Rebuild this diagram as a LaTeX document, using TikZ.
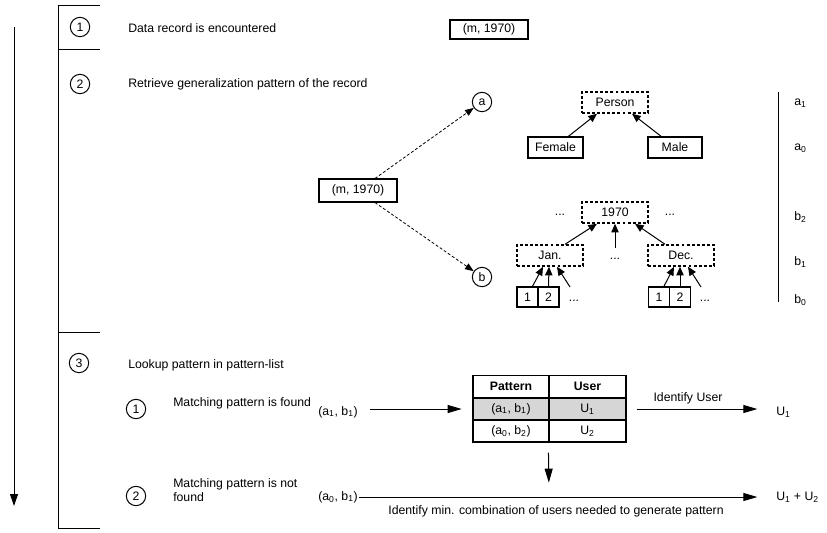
\documentclass[tikz,border=0pt]{standalone}
\usepackage{fontspec}
\setmainfont{Liberation Sans}
\usetikzlibrary{arrows.meta,calc}
\tikzset{
  txt/.style={inner sep=0pt, anchor=west},
  circ/.style={circle, draw, line width=0.75pt, minimum size=14.5pt, inner sep=0pt},
  sbox/.style={draw, line width=1.1pt, inner sep=0pt, minimum width=#1, minimum height=15.75pt},
  dbox/.style={draw, line width=1.1pt, dash pattern=on 2.2pt off 1.6pt, inner sep=0pt, minimum width=49.5pt, minimum height=15.75pt},
  numbox/.style={draw, line width=1.1pt, inner sep=0pt, minimum width=15.75pt, minimum height=15pt},
  cell/.style={draw, line width=1pt, inner sep=0pt, minimum width=#1, minimum height=16.5pt},
  tarr/.style={-{Triangle[length=6.5pt,width=5.5pt]}, line width=0.75pt},
  darr/.style={-{Triangle[length=6.5pt,width=5pt]}, line width=0.6pt, dash pattern=on 2.2pt off 1.5pt},
  barr/.style={-{Triangle[length=10.5pt,width=6pt]}, line width=0.75pt},
  frame/.style={line width=0.75pt},
}
\begin{document}
\begin{tikzpicture}[x=0.75pt,y=-0.75pt, font=\fontsize{9.2}{11}\selectfont]
\useasboundingbox (0,0) rectangle (827,532);

% timeline arrow
\coordinate (tl0) at (14,27);
\coordinate (tl1) at (14,506);
\draw[-{Triangle[length=9pt,width=6pt]}, line width=0.75pt] (tl0) -- (tl1);

% bracket frame
\coordinate (f0) at (58,5);
\coordinate (f1) at (58,528);
\draw[frame] (f0) -- (f1);
\foreach \yy in {5,49,332,528} {\draw[frame] (58,\yy) -- (100,\yy);}

% step 1
\node[circ] (c1) at (80,27) {1};
\node[txt] (t1) at (128,28) {Data record is encountered};
\node[sbox=58.5pt, minimum height=14.5pt] (rec1) at (489,29.5) {(m, 1970)};

% step 2
\node[circ] (c2) at (80,84) {2};
\node[txt] (t2) at (128,84) {Retrieve generalization pattern of the record};
\node[sbox=58.5pt, minimum height=17pt] (rec2) at (358,190.5) {(m, 1970)};
\node[circ] (a) at (482,102) {a};
\node[circ] (b) at (482,277) {b};
\draw[darr] ($(rec2.north)+(17,0)$) -- (a);
\draw[darr] ($(rec2.south)+(17,0)$) -- (b);

% hierarchy a
\node[dbox] (person) at (615,102.5) {Person};
\node[sbox=41.25pt] (female) at (555.5,147.5) {Female};
\node[sbox=40.5pt] (male) at (675,147.5) {Male};
\draw[tarr] ($(female.north)+(13,0)$) -- ($(person.south)+(-18,0)$);
\draw[tarr] ($(male.north)+(-14,0)$) -- ($(person.south)+(17,0)$);

% hierarchy b
\node[dbox] (y1970) at (615,212.5) {1970};
\node[dbox] (jan) at (550,255.5) {Jan.};
\node[dbox] (dec) at (681,255.5) {Dec.};
\node[inner sep=0pt] (dl) at (560,215) {...};
\node[inner sep=0pt] (dr) at (670,215) {...};
\node[inner sep=0pt] (dm) at (615,259) {...};
\coordinate (dmtop) at (615,248);
\draw[tarr] ($(jan.north)+(15,0)$) -- ($(y1970.south)+(-18,0)$);
\draw[tarr] (dmtop) -- (y1970.south);
\draw[tarr] ($(dec.north)+(-16,0)$) -- ($(y1970.south)+(20,0)$);

\node[numbox] (j1) at (527.5,297) {1};
\node[numbox] (j2) at (548.5,297) {2};
\node[inner sep=0pt] (jd) at (574,301) {...};
\coordinate (jdtop) at (570,287);
\node[numbox] (d1) at (659,297) {1};
\node[numbox] (d2) at (680,297) {2};
\node[inner sep=0pt] (dd) at (705,301) {...};
\coordinate (ddtop) at (701,287);
\draw[tarr] ($(j1.north)+(5,0)$) -- ($(jan.south)+(-7,0)$);
\draw[tarr] ($(j2.north)+(0,0)$) -- ($(jan.south)+(-1,0)$);
\draw[tarr] (jdtop) -- ($(jan.south)+(7,0)$);
\draw[tarr] ($(d1.north)+(5,0)$) -- ($(dec.south)+(-7,0)$);
\draw[tarr] ($(d2.north)+(0,0)$) -- ($(dec.south)+(-1,0)$);
\draw[tarr] (ddtop) -- ($(dec.south)+(7,0)$);

% level scale
\coordinate (s0) at (778,92);
\coordinate (s1) at (778,302);
\draw[line width=0.75pt] (s0) -- (s1);
\node[txt] (la1) at (794,103) {a\textsubscript{1}};
\node[txt] (la0) at (794,148) {a\textsubscript{0}};
\node[txt] (lb2) at (794,217) {b\textsubscript{2}};
\node[txt] (lb1) at (794,262) {b\textsubscript{1}};
\node[txt] (lb0) at (794,300) {b\textsubscript{0}};

% step 3
\node[circ] (c3) at (79,363) {3};
\node[txt] (t3) at (128,365) {Lookup pattern in pattern-list};

\node[circ] (s31) at (136,409) {1};
\node[txt] (t31) at (173,403) {Matching pattern is found};
\node[txt] (p1) at (318,412) {(a\textsubscript{1}, b\textsubscript{1})};

\node[circ] (s32) at (136,496) {2};
\node[txt, align=left] (t32) at (173,490) {Matching pattern is not\\found};
\node[txt] (p2) at (318,497) {(a\textsubscript{0}, b\textsubscript{1})};

% table
\node[cell=57pt] (h1) at (511,386.5) {\textbf{Pattern}};
\node[cell=57.75pt] (h2) at (587.5,386.5) {\textbf{User}};
\node[cell=57pt, fill=black!16] (r11) at (511,409) {(a\textsubscript{1}, b\textsubscript{1})};
\node[cell=57.75pt, fill=black!16] (r12) at (587.5,409) {U\textsubscript{1}};
\node[cell=57pt] (r21) at (511,431) {(a\textsubscript{0}, b\textsubscript{2})};
\node[cell=57.75pt] (r22) at (587.5,431) {U\textsubscript{2}};

\node[txt] (u1) at (776,412) {U\textsubscript{1}};
\node[txt] (u12) at (776,497) {U\textsubscript{1} + U\textsubscript{2}};

\draw[barr, shorten <=9pt, shorten >=8pt] (p1.east |- r11.west) -- (r11.west);
\draw[barr, shorten <=7.5pt, shorten >=14pt] (r12.east) -- (u1.west |- r12.east);
\node[inner sep=0pt] (iu) at (688,398) {Identify User};

\draw[barr, shorten <=1pt, shorten >=14pt] (p2.east) -- (u12.west);
\coordinate (lineB) at (549,496);
\draw[barr, shorten <=7.5pt, shorten >=10pt] (r22.south west) -- (lineB);
\node[inner sep=0pt] (im) at (556,511) {Identify min. combination of users needed to generate pattern};
\end{tikzpicture}
\end{document}
